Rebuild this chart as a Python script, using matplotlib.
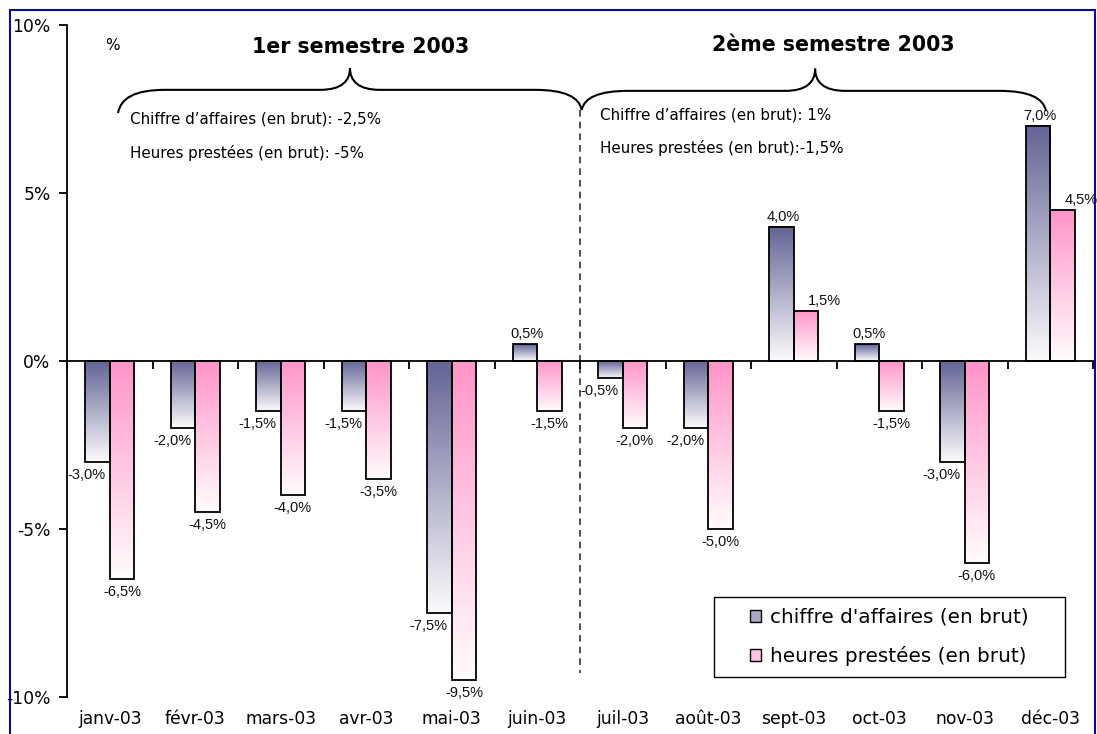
import numpy as np
import matplotlib
matplotlib.use('Agg')
import matplotlib.pyplot as plt
from matplotlib.colors import LinearSegmentedColormap
from matplotlib.patches import Rectangle, PathPatch, Patch
from matplotlib.path import Path

# ---------------- data ----------------
months = ['janv-03', 'févr-03', 'mars-03', 'avr-03', 'mai-03', 'juin-03',
          'juil-03', 'août-03', 'sept-03', 'oct-03', 'nov-03', 'déc-03']
ca_values = [-3.0, -2.0, -1.5, -1.5, -7.5, 0.5, -0.5, -2.0, 4.0, 0.5, -3.0, 7.0]
heures_values = [-6.5, -4.5, -4.0, -3.5, -9.5, -1.5, -2.0, -5.0, 1.5, -1.5, -6.0, 4.5]
series_labels = ["chiffre d'affaires (en brut)", "heures prestées (en brut)"]
y_ticks = [-10, -5, 0, 5, 10]
semester_titles = ['1er semestre 2003', '2ème semestre 2003']
semester_notes = [["Chiffre d\u2019affaires (en brut): -2,5%", "Heures prestées (en brut): -5%"],
                  ["Chiffre d\u2019affaires (en brut): 1%", "Heures prestées (en brut):-1,5%"]]

# ---------------- style ----------------
CA_TOP = '#646496'
H_TOP = '#FF94C8'
FONT = 'DejaVu Sans'
LABEL_FONT = 'Liberation Sans'

W, H = 1097, 734
fig = plt.figure(figsize=(W / 100, H / 100), dpi=100)
fig.patch.set_facecolor('white')
ax = fig.add_axes([67 / W, 1 - 697 / H, (1093 - 67) / W, (697 - 25) / H])

x = np.arange(len(months))
bw = 0.285
bars_ca = ax.bar(x - bw / 2, ca_values, bw, facecolor='none', edgecolor='black',
                 linewidth=1.3, zorder=3)
bars_h = ax.bar(x + bw / 2, heures_values, bw, facecolor='none', edgecolor='black',
                linewidth=1.3, zorder=3)

grad = np.linspace(0, 1, 256).reshape(-1, 1)
for bars, top in ((bars_ca, CA_TOP), (bars_h, H_TOP)):
    cmap = LinearSegmentedColormap.from_list('g', [top, '#FFFFFF'])
    for b in bars:
        x0, w_, y0, h_ = b.get_x(), b.get_width(), b.get_y(), b.get_height()
        lo, hi = min(y0, y0 + h_), max(y0, y0 + h_)
        ax.imshow(grad, cmap=cmap, extent=[x0, x0 + w_, lo, hi], origin='upper',
                  aspect='auto', zorder=2, interpolation='bilinear', vmin=0, vmax=1.03)

# value labels
def fmt(v):
    return f"{v:.1f}%".replace('.', ',')

for bars, vals, dx_pos, dx_neg in ((bars_ca, ca_values, 2, -11), (bars_h, heures_values, 19, 0)):
    for b, v in zip(bars, vals):
        cx = b.get_x() + b.get_width() / 2
        if v >= 0:
            ax.annotate(fmt(v), (cx, v), xytext=(dx_pos, 10), textcoords='offset pixels',
                        ha='center', va='center', fontsize=10.5, family=LABEL_FONT,
                        color='#111111', zorder=5)
        else:
            ax.annotate(fmt(v), (cx, v), xytext=(dx_neg, -13), textcoords='offset pixels',
                        ha='center', va='center', fontsize=10.5, family=LABEL_FONT,
                        color='#111111', zorder=5)

ax.set_xlim(-0.5, len(months) - 0.5)
ax.set_ylim(min(y_ticks), max(y_ticks))

# axes styling
for s in ('top', 'right'):
    ax.spines[s].set_visible(False)
ax.spines['left'].set_linewidth(1.3)
ax.spines['bottom'].set_position(('data', 0))
ax.spines['bottom'].set_linewidth(1.3)
ax.spines['bottom'].set_zorder(4)

ax.set_yticks(y_ticks)
ax.set_yticklabels([f"{t}%" for t in y_ticks], fontsize=12.3, family=FONT)
ax.tick_params(axis='y', direction='out', length=6, width=1.3, pad=5.8)

ax.set_xticks([])
ax.set_xticks(np.arange(-0.5, len(months)), minor=True)
ax.tick_params(axis='x', which='minor', direction='out', length=6, width=1.3)

sec = ax.secondary_xaxis('bottom')
sec.set_xticks(x)
sec.set_xticklabels(months, fontsize=12.3, family=FONT)
sec.tick_params(length=0, pad=9)
sec.spines['bottom'].set_visible(False)

# semester separator
split = len(months) / 2 - 0.5
ax.plot([split, split], [7.47, -9.3], linestyle=(0, (4, 3)), color='#333333',
        linewidth=1.2, zorder=1)

# braces
def brace(xl, xm, xr, yl, yr, yh, yp):
    verts = [(xl, yl),
             (xl + 0.03, yl + 0.65 * (yh - yl)), (xl + 0.2, yh), (xl + 0.55, yh),
             (xm - 0.35, yh),
             (xm - 0.1, yh), (xm, yh + 0.4 * (yp - yh)), (xm, yp),
             (xm, yh + 0.4 * (yp - yh)), (xm + 0.1, yh), (xm + 0.35, yh),
             (xr - 0.55, yh),
             (xr - 0.2, yh), (xr - 0.03, yr + 0.65 * (yh - yr)), (xr, yr)]
    codes = [Path.MOVETO, Path.CURVE4, Path.CURVE4, Path.CURVE4, Path.LINETO,
             Path.CURVE4, Path.CURVE4, Path.CURVE4, Path.CURVE4, Path.CURVE4, Path.CURVE4,
             Path.LINETO, Path.CURVE4, Path.CURVE4, Path.CURVE4]
    ax.add_patch(PathPatch(Path(verts, codes), facecolor='none', edgecolor='black',
                           linewidth=1.5, clip_on=False, zorder=4))

brace(0.097, 2.81, split + 0.02, 7.38, 7.47, 8.07, 8.72)
brace(split + 0.02, 8.25, 10.95, 7.47, 7.44, 8.04, 8.70)

# titles and notes
ax.text(2.94, 9.35, semester_titles[0], ha='center', va='center', fontsize=14.8,
        fontweight='bold', family=FONT)
ax.text(8.46, 9.40, semester_titles[1], ha='center', va='center', fontsize=14.8,
        fontweight='bold', family=FONT)
ax.text(0.026, 9.40, '%', ha='center', va='center', fontsize=11, family=FONT)
for (nx, ys), notes in zip(((0.237, (7.20, 6.19)), (5.734, (7.32, 6.34))), semester_notes):
    for yy, t in zip(ys, notes):
        ax.text(nx, yy, t, ha='left', va='center', fontsize=10.9, family=FONT)

# legend
mid_ca = LinearSegmentedColormap.from_list('g', [CA_TOP, '#FFFFFF'])(0.45)
mid_h = LinearSegmentedColormap.from_list('g', [H_TOP, '#FFFFFF'])(0.45)
handles = [Patch(facecolor=mid_ca, edgecolor='black', linewidth=1.0),
           Patch(facecolor=mid_h, edgecolor='black', linewidth=1.0)]
leg = ax.legend(handles, series_labels, loc='center', bbox_to_anchor=(0.8017, 0.0893),
                frameon=False, prop={'family': FONT, 'size': 14.4},
                handlelength=0.55, handleheight=0.55, handletextpad=0.45,
                labelspacing=0.95)
ax.add_patch(Rectangle((0.6306, 0.0298), 0.3421, 0.119, transform=ax.transAxes,
                       facecolor='white', edgecolor='black', linewidth=1.0, zorder=4.5))
leg.set_zorder(6)

# figure border
fig.add_artist(Rectangle((9.5 / W, -0.05), (1095 - 9.5) / W, (724 + 36.7) / H + 0.0,
                         transform=fig.transFigure, fill=False, edgecolor='#0A0A96',
                         linewidth=1.5))

fig.savefig('out.png', dpi=100, facecolor='white')
